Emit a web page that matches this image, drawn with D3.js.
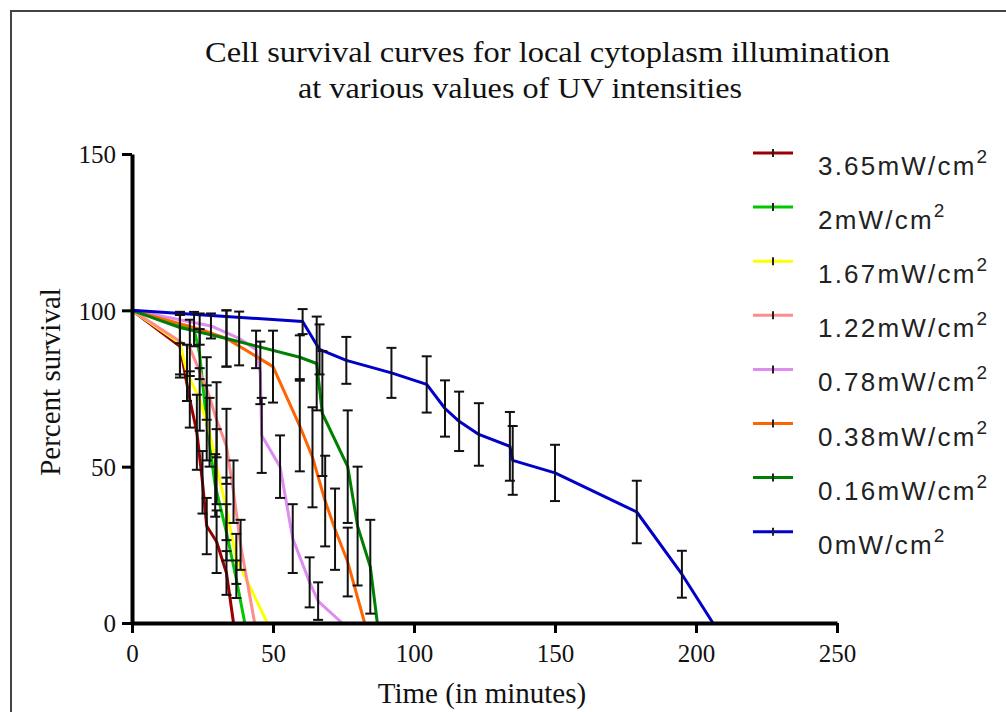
<!DOCTYPE html>
<html>
<head>
<meta charset="utf-8">
<title>Cell survival curves</title>
<style>
  body { margin: 0; background: #fff; }
  svg { display: block; }
  .tick text { font-family: "Liberation Serif", serif; font-size: 25px; fill: #111; }
  .axis path, .axis line { stroke: #000; }
</style>
<script src="https://d3js.org/d3.v7.min.js"></script>
</head>
<body>
<div id="chart"></div>
<script>
// ---- data ----
var seriesLabels = ["3.65", "2", "1.67", "1.22", "0.78", "0.38", "0.16", "0"];
var seriesColors = ["#9b0000", "#00c800", "#ffff00", "#ff8c8c", "#dd8cf0", "#ff6400", "#008000", "#0000c8"];

// time (min), mean survival (%), sd (%)
var t365 = [0, 17, 20.5, 23, 25, 26.5, 30, 33.5, 36];
var m365 = [100, 88.5, 71.5, 61, 45, 31, 26, 16, 0];
var e365 = [0, 10, 9, 12, 10, 9, 10, 7, 0];

var t2 = [0, 22, 24, 26.5, 29.5, 33.5, 37, 40];
var m2 = [100, 94, 86, 64, 44, 29, 14, 0];
var e2 = [0, 5.5, 8, 12, 10, 9, 6, 0];

var t167 = [0, 17, 19.5, 24, 27.5, 30, 33.5, 37, 48];
var m167 = [100, 89.5, 80, 71.5, 61, 50, 36.5, 20.5, 0];
var e167 = [0, 10, 9, 10, 11, 12, 10, 8, 0];

var t122 = [0, 20.5, 26.5, 30, 33.5, 36, 38.5, 43.5];
var m122 = [100, 88, 75, 65, 56.5, 42, 25, 0];
var e122 = [0, 9, 10, 12, 12, 10, 8, 0];

var t078 = [0, 28, 38, 44, 45.5, 46, 52.5, 57, 63, 66, 74.5];
var m078 = [100, 95, 91, 87.5, 80, 60, 50, 27, 13, 7, 0];
var e078 = [0, 4, 8.6, 6, 10, 12, 10, 11, 8, 6, 0];

var t038 = [0, 24, 33.5, 50, 59.5, 64, 68.5, 72, 76.5, 82.5];
var m038 = [100, 94, 91, 82, 63, 53, 39, 30, 19.5, 0];
var e038 = [0, 5, 9, 11.5, 14.5, 16, 14.5, 13, 11, 0];

var t016 = [0, 17, 33.5, 59.5, 65.5, 67.5, 76.5, 80, 84.5, 87];
var m016 = [100, 94.5, 91, 85, 83, 67, 50, 31, 18, 0];
var e016 = [0, 5, 9, 7, 15, 20, 18, 19, 15, 0];

var t0 = [0, 24, 60.5, 66.5, 76, 92, 104.5, 111, 116, 123, 134, 135, 150, 179, 195, 206];
var m0 = [100, 98.6, 96.4, 87.5, 84, 80, 76.3, 68.6, 64.5, 60.3, 56.5, 52, 48, 35.5, 15.6, 0];
var e0 = [0, 0, 4, 8, 7.5, 8, 9, 9, 9.5, 10, 11, 11, 9, 10, 7.5, 0];

var xTicks = [0, 50, 100, 150, 200, 250];
var yTicks = [0, 50, 100, 150];

var times = [t365, t2, t167, t122, t078, t038, t016, t0];
var means = [m365, m2, m167, m122, m078, m038, m016, m0];
var sds   = [e365, e2, e167, e122, e078, e038, e016, e0];

// ---- drawing ----
var width = 1006, height = 712;
var svg = d3.select("#chart").append("svg")
    .attr("width", width)
    .attr("height", height);

svg.append("rect")
    .attr("x", 0).attr("y", 0).attr("width", width).attr("height", height)
    .attr("fill", "#fff");

// frame (runs off the right and bottom edge)
svg.append("rect")
    .attr("x", 11).attr("y", 11)
    .attr("width", 1200).attr("height", 900)
    .attr("fill", "none")
    .attr("stroke", "#444")
    .attr("stroke-width", 2);

var x = d3.scaleLinear().domain([0, 250]).range([132, 837]);
var y = d3.scaleLinear().domain([0, 150]).range([623, 154]);

var series = seriesLabels.map(function(lab, i) {
  return {
    label: lab,
    color: seriesColors[i],
    points: times[i].map(function(t, j) {
      return { t: t, m: means[i][j], e: sds[i][j] };
    })
  };
});

var line = d3.line()
    .x(function(d) { return x(d.t); })
    .y(function(d) { return y(d.m); });

var plot = svg.append("g").attr("class", "plot");

// lines first, error bars on top
series.forEach(function(s) {
  plot.append("path")
      .datum(s.points)
      .attr("fill", "none")
      .attr("stroke", s.color)
      .attr("stroke-width", 3)
      .attr("stroke-linejoin", "round")
      .attr("d", line);
});

var cap = 5;
series.forEach(function(s) {
  var bars = plot.append("g")
    .selectAll("g")
    .data(s.points.filter(function(d) { return d.e > 0; }))
    .enter().append("g")
      .attr("stroke", "#111")
      .attr("stroke-width", 2);
  bars.append("line")
      .attr("x1", function(d) { return x(d.t); })
      .attr("x2", function(d) { return x(d.t); })
      .attr("y1", function(d) { return y(d.m + d.e); })
      .attr("y2", function(d) { return y(Math.max(0, d.m - d.e)); });
  bars.append("line")
      .attr("x1", function(d) { return x(d.t) - cap; })
      .attr("x2", function(d) { return x(d.t) + cap; })
      .attr("y1", function(d) { return y(d.m + d.e); })
      .attr("y2", function(d) { return y(d.m + d.e); });
  bars.append("line")
      .attr("x1", function(d) { return x(d.t) - cap; })
      .attr("x2", function(d) { return x(d.t) + cap; })
      .attr("y1", function(d) { return y(Math.max(0, d.m - d.e)); })
      .attr("y2", function(d) { return y(Math.max(0, d.m - d.e)); });
});

// axes
var xAxis = d3.axisBottom(x).tickValues(xTicks).tickSize(10).tickSizeOuter(0).tickPadding(11);
var yAxis = d3.axisLeft(y).tickValues(yTicks).tickSize(10).tickSizeOuter(0).tickPadding(6);

var gx = svg.append("g").attr("class", "axis")
    .attr("transform", "translate(0," + y(0) + ")")
    .call(xAxis);
var gy = svg.append("g").attr("class", "axis")
    .attr("transform", "translate(" + x(0) + ",0)")
    .call(yAxis);

gx.select(".domain").attr("stroke-width", 4);
gy.select(".domain").attr("stroke-width", 4);
gx.selectAll(".tick line").attr("stroke-width", 3);
gy.selectAll(".tick line").attr("stroke-width", 3);
gy.selectAll(".tick text").attr("dy", "0.35em");

// titles
var serif = "'Liberation Serif', 'DejaVu Serif', serif";
svg.append("text")
    .attr("x", 205).attr("y", 62)
    .attr("textLength", 685).attr("lengthAdjust", "spacingAndGlyphs")
    .attr("font-family", serif).attr("font-size", 30).attr("fill", "#111")
    .text("Cell survival curves for local cytoplasm illumination");
svg.append("text")
    .attr("x", 298).attr("y", 98)
    .attr("textLength", 444).attr("lengthAdjust", "spacingAndGlyphs")
    .attr("font-family", serif).attr("font-size", 30).attr("fill", "#111")
    .text("at various values of UV intensities");

svg.append("text")
    .attr("x", 482).attr("y", 703)
    .attr("text-anchor", "middle")
    .attr("font-family", serif).attr("font-size", 29).attr("fill", "#111")
    .text("Time (in minutes)");

svg.append("text")
    .attr("transform", "translate(60,382) rotate(-90)")
    .attr("text-anchor", "middle")
    .attr("font-family", serif).attr("font-size", 29).attr("fill", "#111")
    .text("Percent survival");

// legend
var legend = svg.append("g").attr("class", "legend");
var item = legend.selectAll("g")
    .data(series)
    .enter().append("g")
      .attr("transform", function(d, i) { return "translate(753," + (153 + i * 54.1) + ")"; });

item.append("line")
    .attr("x1", 0).attr("x2", 40)
    .attr("stroke", function(d) { return d.color; })
    .attr("stroke-width", 3);
item.append("line")
    .attr("x1", 20).attr("x2", 20).attr("y1", -4).attr("y2", 4)
    .attr("stroke", "#222").attr("stroke-width", 2);

var lt = item.append("text")
    .attr("x", 65).attr("y", 22)
    .attr("font-family", "'Liberation Sans', Arial, sans-serif")
    .attr("font-size", 26)
    .attr("letter-spacing", 2.2)
    .attr("fill", "#222");
lt.append("tspan").text(function(d) { return d.label + "mW/cm"; });
lt.append("tspan")
    .attr("dy", -12).attr("font-size", 19)
    .text("2");
</script>
</body>
</html>
